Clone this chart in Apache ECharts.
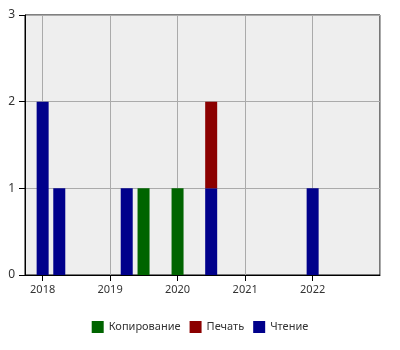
<!DOCTYPE html>
<html>
<head>
<meta charset="utf-8">
<script src="https://cdn.jsdelivr.net/npm/echarts@6/dist/echarts.min.js"></script>
<style>html,body{margin:0;padding:0;background:#fff}#c{width:400px;height:350px}</style>
</head>
<body>
<div id="c"></div>
<script>
const periods = ['2018-01-01','2018-04-01','2019-04-01','2019-07-01','2020-01-01','2020-07-01','2022-01-01'];
const seriesNames = ['Копирование','Печать','Чтение'];
const copying = [0, 0, 0, 1, 1, 0, 0];
const printing = [0, 0, 0, 0, 0, 1, 0];
const reading = [2, 1, 1, 0, 0, 1, 1];
const yTicks = [0, 1, 2, 3];
const colors = {'Копирование':'#006400','Печать':'#8b0000','Чтение':'#00008b'};

function toData(vals){
  return vals.map((v,i)=>[periods[i], v]);
}
const font = 'Noto Sans, sans-serif';
const chart = echarts.init(document.getElementById('c'));
const mk = (name, vals) => ({
  name, type:'bar', stack:'total', barWidth:12,
  itemStyle:{color:colors[name]},
  data: toData(vals)
});
chart.setOption({
  animation:false,
  textStyle:{fontFamily:font},
  grid:{left:25,right:20,top:15,bottom:75,show:true,backgroundColor:'#eeeeee',borderColor:'#000',borderWidth:1},
  legend:{
    data:seriesNames, bottom:12, left:'center', icon:'rect', itemWidth:12, itemHeight:12, itemGap:9,
    textStyle:{fontSize:11,color:'#333',fontFamily:font}
  },
  xAxis:{
    type:'time', min:'2017-10-30', max:'2022-11-29', splitNumber:5,
    axisLine:{show:true,lineStyle:{color:'#000'}},
    axisTick:{show:true,length:6,lineStyle:{color:'#000'}},
    axisLabel:{formatter:'{yyyy}',color:'#333',fontSize:11,margin:9,fontFamily:font,hideOverlap:false},
    splitLine:{show:true,lineStyle:{color:'#aaaaaa'}},
    minorTick:{show:false}
  },
  yAxis:{
    type:'value', min:yTicks[0], max:yTicks[yTicks.length-1], interval:1,
    axisLine:{show:true,lineStyle:{color:'#000'}},
    axisTick:{show:true,length:6,lineStyle:{color:'#000'}},
    axisLabel:{color:'#333',fontSize:12,margin:10,fontFamily:font},
    splitLine:{show:true,lineStyle:{color:'#aaaaaa'}}
  },
  series:[mk('Чтение',reading), mk('Печать',printing), mk('Копирование',copying)]
});
</script>
</body>
</html>
